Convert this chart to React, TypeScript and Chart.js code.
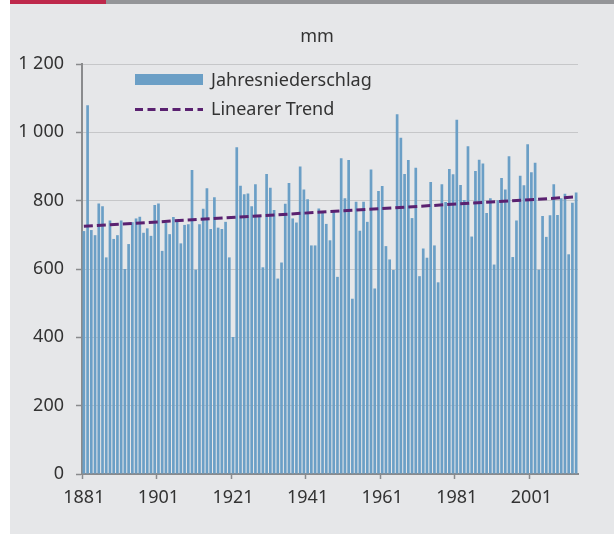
import React, { useEffect, useRef } from 'react';
import { Chart, registerables } from 'chart.js';

Chart.register(...registerables);

// ---- data ----
const FIRST_YEAR = 1881;

const precipitation: number[] = [
  711, 1079, 714, 699, 792, 784, 634, 742, 688, 699, 742, 600, 673, 737, 748, 753, 706, 719, 697, 787, 792, 653,
  735, 702, 752, 738, 675, 729, 731, 890, 598, 731, 776, 836, 717, 810, 721, 717, 738, 634, 401, 956, 844, 819,
  821, 784, 848, 756, 605, 878, 838, 773, 572, 619, 791, 852, 748, 736, 900, 833, 804, 669, 669, 777, 770, 732,
  684, 768, 577, 924, 807, 919, 513, 797, 712, 797, 738, 891, 543, 828, 843, 667, 628, 597, 1053, 984, 878, 919,
  749, 896, 579, 660, 633, 855, 669, 561, 848, 796, 893, 877, 1037, 846, 802, 959, 695, 887, 920, 909, 764, 807,
  613, 801, 866, 833, 930, 635, 742, 873, 845, 965, 883, 911, 598, 755, 694, 757, 848, 758, 807, 820, 643, 794, 824,
];

const years: string[] = precipitation.map((_, i) => String(FIRST_YEAR + i));

// linear trend: value at first and last year (line drawn between them)
const trendStart = 725;
const trendEnd = 811;
const trend: (number | null)[] = precipitation.map((_, i) =>
  i === 0 ? trendStart : i === precipitation.length - 1 ? trendEnd : null
);

const xTickLabels = ['1881', '1901', '1921', '1941', '1961', '1981', '2001'];
const yTickValues = [0, 200, 400, 600, 800, 1000, 1200];
const yTickLabels = ['0', '200', '400', '600', '800', '1 000', '1 200'];

const unitLabel = 'mm';
const seriesLabel = 'Jahresniederschlag';
const trendLabel = 'Linearer Trend';

// ---- styles ----
const FONT = "'Noto Sans', 'Open Sans', sans-serif";
const BAR_COLOR = '#6b9fc6';
const TREND_COLOR = '#5a2170';
const AXIS_COLOR = '#8a8b8d';
const GRID_COLOR = '#c6c7c9';
const TEXT_COLOR = '#333333';
const PANEL_BG = '#e6e7e9';

const overlayPlugin = {
  id: 'overlay',
  afterDraw(chart: any) {
    const { ctx, chartArea } = chart;
    ctx.save();
    ctx.fillStyle = TEXT_COLOR;
    ctx.font = `18px ${FONT}`;
    ctx.textAlign = 'center';
    ctx.textBaseline = 'alphabetic';
    ctx.fillText(unitLabel, 317, 42);

    const lx = chartArea.left + 53;
    // bar legend
    ctx.fillStyle = BAR_COLOR;
    ctx.fillRect(lx, 74, 68, 11);
    // trend legend
    ctx.strokeStyle = TREND_COLOR;
    ctx.lineWidth = 3;
    ctx.setLineDash([8, 4.5]);
    ctx.beginPath();
    ctx.moveTo(lx, 109.5);
    ctx.lineTo(lx + 68, 109.5);
    ctx.stroke();
    ctx.setLineDash([]);

    ctx.fillStyle = TEXT_COLOR;
    ctx.textAlign = 'left';
    ctx.fillText(seriesLabel, lx + 76, 86);
    ctx.fillText(trendLabel, lx + 76, 115);
    ctx.restore();
  },
};

export default function App() {
  const canvasRef = useRef<HTMLCanvasElement | null>(null);

  useEffect(() => {
    if (!canvasRef.current) return;
    const chart = new Chart(canvasRef.current, {
      type: 'bar',
      data: {
        labels: years,
        datasets: [
          {
            type: 'line',
            label: trendLabel,
            data: trend,
            borderColor: TREND_COLOR,
            borderWidth: 3,
            borderDash: [9, 4],
            pointRadius: 0,
            spanGaps: true,
            fill: false,
            order: 0,
          } as any,
          {
            type: 'bar',
            label: seriesLabel,
            data: precipitation,
            backgroundColor: BAR_COLOR,
            borderWidth: 0,
            barPercentage: 0.72,
            categoryPercentage: 1,
            order: 1,
          },
        ],
      },
      options: {
        animation: false,
        responsive: false,
        maintainAspectRatio: false,
        layout: { padding: { top: 64, right: 36, left: 0, bottom: 0 } },
        plugins: {
          legend: { display: false },
          tooltip: { enabled: false },
          title: { display: false },
        },
        scales: {
          x: {
            type: 'category',
            offset: true,
            grid: {
              offset: true,
              drawOnChartArea: false,
              drawTicks: true,
              tickLength: 5,
              tickWidth: 1.5,
              tickColor: (ctx: any) => (ctx.index % 20 === 0 && ctx.index < precipitation.length ? AXIS_COLOR : 'rgba(0,0,0,0)'),
            },
            border: { color: AXIS_COLOR, width: 2 },
            ticks: {
              autoSkip: false,
              maxRotation: 0,
              minRotation: 0,
              padding: 8,
              color: TEXT_COLOR,
              font: { family: FONT, size: 18 },
              callback: (_v: any, i: number) => (xTickLabels.includes(years[i]) ? years[i] : ''),
            },
            afterFit: (s: any) => {
              s.height = 60;
            },
          },
          y: {
            min: 0,
            max: 1200,
            afterBuildTicks: (s: any) => {
              s.ticks = yTickValues.map((v) => ({ value: v }));
            },
            ticks: {
              padding: 12,
              color: TEXT_COLOR,
              font: { family: FONT, size: 18 },
              callback: (v: any) => {
                const idx = yTickValues.indexOf(Number(v));
                return idx >= 0 ? yTickLabels[idx] : '';
              },
            },
            grid: {
              color: GRID_COLOR,
              lineWidth: 1,
              tickColor: AXIS_COLOR,
              tickLength: 6,
              tickWidth: 1.5,
            },
            border: { color: AXIS_COLOR, width: 2 },
            afterFit: (s: any) => {
              s.width = 82;
            },
          },
        },
      },
      plugins: [overlayPlugin],
    });
    return () => chart.destroy();
  }, []);

  return (
    <div style={{ position: 'fixed', left: 0, top: 0, width: 614, height: 534, background: '#ffffff' }}>
      <div style={{ position: 'absolute', left: 10, top: 0, width: 96, height: 4, background: '#be284b' }} />
      <div style={{ position: 'absolute', left: 106, top: 0, width: 508, height: 4, background: '#949598' }} />
      <div style={{ position: 'absolute', left: 10, top: 4, width: 604, height: 530, background: PANEL_BG }} />
      <canvas
        ref={canvasRef}
        width={614}
        height={534}
        style={{ position: 'absolute', left: 0, top: 0, width: 614, height: 534 }}
      />
    </div>
  );
}
